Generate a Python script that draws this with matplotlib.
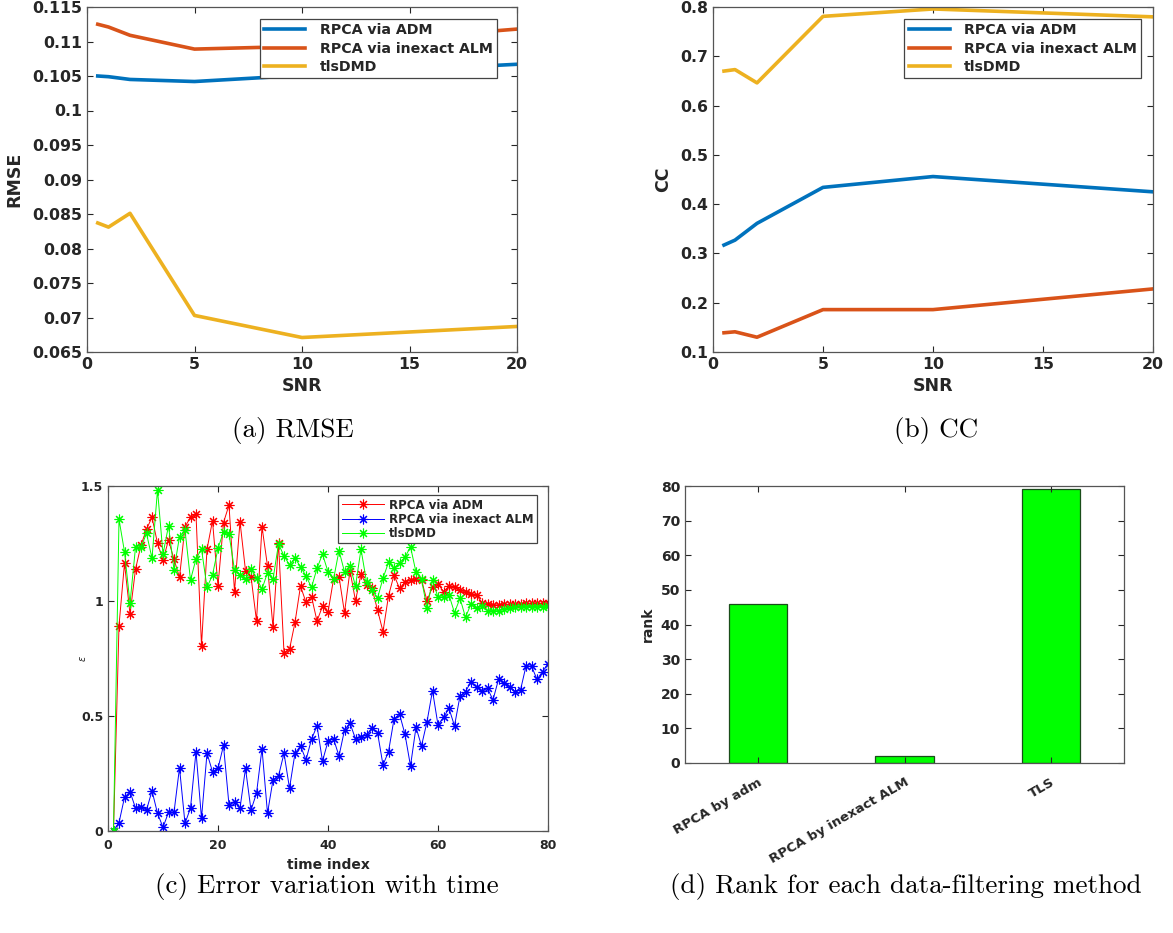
import matplotlib
matplotlib.use("Agg")
import matplotlib.pyplot as plt
import numpy as np

# ---------------- data ----------------
snr = [0.5, 1, 2, 5, 10, 20]
rmse_adm = [0.1050, 0.1049, 0.1045, 0.1042, 0.1051, 0.1067]
rmse_alm = [0.1125, 0.1121, 0.1109, 0.1089, 0.1093, 0.1118]
rmse_tls = [0.0837, 0.0831, 0.0851, 0.0703, 0.0671, 0.0687]

cc_adm = [0.317, 0.327, 0.361, 0.434, 0.456, 0.425]
cc_alm = [0.139, 0.141, 0.130, 0.186, 0.186, 0.228]
cc_tls = [0.670, 0.673, 0.646, 0.781, 0.796, 0.780]

err_adm = [0.0, 0.893, 1.164, 0.943, 1.138, 1.243, 1.312, 1.364, 1.251, 1.178,
           1.265, 1.181, 1.103, 1.323, 1.364, 1.377, 0.806, 1.225, 1.349, 1.065,
           1.341, 1.417, 1.041, 1.345, 1.132, 1.106, 0.914, 1.323, 1.152, 0.886,
           1.254, 0.775, 0.790, 0.907, 1.065, 0.994, 1.019, 0.913, 0.977, 0.951,
           1.094, 1.106, 0.949, 1.132, 1.001, 1.116, 1.070, 1.055, 0.961, 0.867,
           1.022, 1.113, 1.055, 1.081, 1.091, 1.096, 1.091, 1.001, 1.062, 1.074,
           1.041, 1.065, 1.059, 1.048, 1.038, 1.030, 1.026, 0.993, 0.987, 0.983,
           0.983, 0.985, 0.985, 0.987, 0.988, 0.990, 0.990, 0.990, 0.990, 0.990]
err_alm = [0.0, 0.036, 0.146, 0.171, 0.100, 0.106, 0.091, 0.175, 0.077, 0.016,
           0.081, 0.081, 0.275, 0.033, 0.100, 0.345, 0.055, 0.338, 0.258, 0.272,
           0.372, 0.113, 0.128, 0.099, 0.272, 0.091, 0.164, 0.358, 0.077, 0.222,
           0.239, 0.338, 0.186, 0.338, 0.370, 0.309, 0.399, 0.457, 0.304, 0.390,
           0.401, 0.326, 0.439, 0.468, 0.401, 0.410, 0.416, 0.448, 0.428, 0.287,
           0.345, 0.486, 0.509, 0.420, 0.283, 0.451, 0.370, 0.475, 0.610, 0.461,
           0.494, 0.533, 0.457, 0.587, 0.606, 0.649, 0.625, 0.610, 0.620, 0.570,
           0.659, 0.645, 0.627, 0.606, 0.613, 0.717, 0.717, 0.659, 0.693, 0.726]
err_tls = [0.0, 1.355, 1.214, 0.990, 1.233, 1.233, 1.294, 1.186, 1.483, 1.204,
           1.327, 1.135, 1.280, 1.309, 1.091, 1.183, 1.226, 1.059, 1.113, 1.229,
           1.301, 1.291, 1.135, 1.113, 1.094, 1.139, 1.099, 1.052, 1.123, 1.094,
           1.248, 1.196, 1.157, 1.186, 1.149, 1.109, 1.059, 1.142, 1.204, 1.127,
           1.094, 1.219, 1.127, 1.152, 1.065, 1.225, 1.084, 1.048, 1.012, 1.099,
           1.168, 1.142, 1.167, 1.190, 1.236, 1.125, 1.094, 0.968, 1.091, 1.016,
           1.019, 1.026, 0.949, 1.012, 0.929, 0.987, 0.968, 0.978, 0.958, 0.958,
           0.958, 0.964, 0.968, 0.972, 0.975, 0.975, 0.975, 0.975, 0.975, 0.977]
time_index = list(range(1, len(err_adm) + 1))

rank_methods = ["RPCA by adm", "RPCA by inexact ALM", "TLS"]
rank_values = [46, 2, 79]

legend_labels = ["RPCA via ADM", "RPCA via inexact ALM", "tlsDMD"]
captions = ["(a) RMSE", "(b) CC", "(c) Error variation with time",
            "(d) Rank for each data-filtering method"]

# ---------------- figure ----------------
W, H = 1173, 933
fig = plt.figure(figsize=(W / 100, H / 100), dpi=100)

def ax_px(l, t, r, b):
    return fig.add_axes([l / W, 1 - b / H, (r - l) / W, (b - t) / H])

TXT = "#262626"
M_BLUE, M_ORANGE, M_YELLOW = "#0072BD", "#D95319", "#EDB120"
ASTER = (8, 2, 0)

def style(ax, fs):
    ax.tick_params(direction="in", top=True, right=True, length=4,
                   labelsize=fs, colors=TXT, width=0.8)
    for lab in ax.get_xticklabels() + ax.get_yticklabels():
        lab.set_fontweight("bold")
    for s in ax.spines.values():
        s.set_color("#555555")
        s.set_linewidth(0.9)

def mk_legend(ax, anchor, size, hl, htp, ls):
    leg = ax.legend(loc="upper right", bbox_to_anchor=anchor, borderaxespad=0,
                    prop={"weight": "bold", "size": size}, handlelength=hl,
                    borderpad=0.3, labelspacing=ls, handletextpad=htp,
                    fancybox=False, framealpha=1, edgecolor="#444444")
    leg.get_frame().set_linewidth(0.9)
    for t in leg.get_texts():
        t.set_color(TXT)
    return leg

# (a) RMSE
ax = ax_px(87, 7, 517, 352)
ax.plot(snr, rmse_adm, color=M_BLUE, lw=2.6, label=legend_labels[0])
ax.plot(snr, rmse_alm, color=M_ORANGE, lw=2.6, label=legend_labels[1])
ax.plot(snr, rmse_tls, color=M_YELLOW, lw=2.6, label=legend_labels[2])
ax.set_xlim(0, 20)
ax.set_ylim(0.065, 0.115)
ax.set_xticks([0, 5, 10, 15, 20])
ax.set_yticks(np.arange(0.065, 0.1151, 0.005))
ax.set_yticklabels(["0.065", "0.07", "0.075", "0.08", "0.085", "0.09",
                    "0.095", "0.1", "0.105", "0.11", "0.115"])
ax.set_xlabel("SNR", fontsize=12.5, fontweight="bold", color=TXT, labelpad=4)
ax.set_ylabel("RMSE", fontsize=12.5, fontweight="bold", color=TXT, labelpad=6)
style(ax, 11.3)
mk_legend(ax, (0.953, 0.965), 10.2, 2.9, 1.0, 0.3)

# (b) CC
ax = ax_px(713, 7, 1153, 352)
ax.plot(snr, cc_adm, color=M_BLUE, lw=2.6, label=legend_labels[0])
ax.plot(snr, cc_alm, color=M_ORANGE, lw=2.6, label=legend_labels[1])
ax.plot(snr, cc_tls, color=M_YELLOW, lw=2.6, label=legend_labels[2])
ax.set_xlim(0, 20)
ax.set_ylim(0.1, 0.8)
ax.set_xticks([0, 5, 10, 15, 20])
ax.set_yticks([0.1, 0.2, 0.3, 0.4, 0.5, 0.6, 0.7, 0.8])
ax.set_yticklabels(["0.1", "0.2", "0.3", "0.4", "0.5", "0.6", "0.7", "0.8"])
ax.set_xlabel("SNR", fontsize=12.5, fontweight="bold", color=TXT, labelpad=4)
ax.set_ylabel("CC", fontsize=12.5, fontweight="bold", color=TXT, labelpad=6)
style(ax, 11.3)
mk_legend(ax, (0.973, 0.965), 10.2, 2.9, 1.0, 0.3)

# (c) error vs time
ax = ax_px(108, 486, 548, 831)
ax.plot(time_index, err_adm, color="#ff0000", lw=0.7, marker=ASTER, ms=7,
        mew=0.8, label=legend_labels[0])
ax.plot(time_index, err_alm, color="#0000ff", lw=0.7, marker=ASTER, ms=7,
        mew=0.8, label=legend_labels[1])
ax.plot(time_index, err_tls, color="#00ff00", lw=0.7, marker=ASTER, ms=7,
        mew=0.8, label=legend_labels[2])
ax.set_xlim(0, 80)
ax.set_ylim(0, 1.5)
ax.set_xticks([0, 20, 40, 60, 80])
ax.set_yticks([0, 0.5, 1, 1.5])
ax.set_yticklabels(["0", "0.5", "1", "1.5"])
ax.set_xlabel("time index", fontsize=10, fontweight="bold", color=TXT, labelpad=4)
ax.set_ylabel(r"$\epsilon$", fontsize=7, color=TXT)
ax.yaxis.set_label_coords(-0.045, 0.5)
style(ax, 9)
ax.tick_params(axis="x", pad=6)
mk_legend(ax, (0.975, 0.974), 8.5, 3.6, 0.4, 0.1)

# (d) rank bars
ax = ax_px(685, 486, 1124, 763)
ax.bar(range(1, len(rank_values) + 1), rank_values, width=0.4,
       color="#00ff00", edgecolor="#1a4d1a", linewidth=0.9)
ax.set_xlim(0.5, 3.5)
ax.set_ylim(0, 80)
ax.set_yticks(range(0, 81, 10))
ax.set_xticks([1, 2, 3])
ax.set_xticklabels(rank_methods, rotation=30, ha="right", rotation_mode="anchor")
ax.set_ylabel("rank", fontsize=10, fontweight="bold", color=TXT, labelpad=4)
style(ax, 10)
ax.tick_params(axis="x", labelsize=9.5, pad=9)

# captions
cap_kw = dict(fontsize=19.5, family="cmr10", ha="center", va="center", color="black")
fig.text(293 / W, 1 - 431 / H, captions[0], **cap_kw)
fig.text(936 / W, 1 - 431 / H, captions[1], **cap_kw)
fig.text(327 / W, 1 - 886 / H, captions[2], **cap_kw)
fig.text(906 / W, 1 - 886 / H, captions[3], **cap_kw)

fig.savefig("out.png", dpi=100)
